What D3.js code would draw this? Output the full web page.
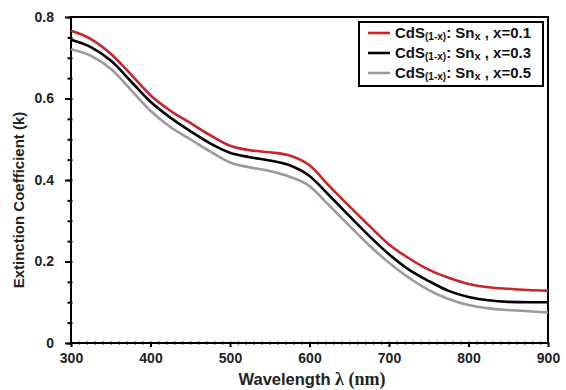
<!DOCTYPE html>
<html>
<head>
<meta charset="utf-8">
<script src="https://cdn.jsdelivr.net/npm/d3@7"></script>
<style>
  body { margin: 0; background: #fff; }
  text { font-family: Arial, "Liberation Sans", sans-serif; font-weight: bold; }
  tspan.serif { font-family: "Liberation Serif", "DejaVu Serif", serif; }
</style>
</head>
<body>
<div id="chart"></div>
<script>
var wavelength = [300, 325, 350, 375, 400, 425, 450, 475, 500, 525, 550, 575, 600,
    625, 650, 675, 700, 725, 750, 775, 800, 825, 850, 875, 900];
var kX01 = [0.766, 0.746, 0.710, 0.660, 0.608, 0.570, 0.540, 0.510, 0.484, 0.473, 0.468, 0.460, 0.436,
    0.385, 0.336, 0.288, 0.242, 0.208, 0.180, 0.160, 0.145, 0.137, 0.133, 0.130, 0.128];
var kX03 = [0.744, 0.726, 0.693, 0.643, 0.592, 0.553, 0.520, 0.490, 0.467, 0.456, 0.448, 0.436, 0.410,
    0.362, 0.312, 0.263, 0.218, 0.180, 0.152, 0.128, 0.113, 0.105, 0.101, 0.100, 0.100];
var kX05 = [0.721, 0.705, 0.673, 0.622, 0.570, 0.530, 0.500, 0.470, 0.443, 0.431, 0.422, 0.408, 0.385,
    0.337, 0.288, 0.240, 0.197, 0.160, 0.130, 0.108, 0.093, 0.085, 0.081, 0.078, 0.075];
var seriesNames = ["x=0.1", "x=0.3", "x=0.5"];
var seriesColors = ["#c8242b", "#000000", "#9a9a9f"];
var xTicks = [300, 400, 500, 600, 700, 800, 900];
var yTicks = [0, 0.2, 0.4, 0.6, 0.8];

var svgWidth = 566, svgHeight = 390;
var margin = { top: 17, right: 18, bottom: 47, left: 71 };
var chartWidth = svgWidth - margin.left - margin.right;
var chartHeight = svgHeight - margin.top - margin.bottom;

var svg = d3.select("#chart").append("svg")
    .attr("width", svgWidth)
    .attr("height", svgHeight);

var chartGroup = svg.append("g")
    .attr("transform", `translate(${margin.left}, ${margin.top})`);

var xScale = d3.scaleLinear().domain([300, 900]).range([0, chartWidth]);
var yScale = d3.scaleLinear().domain([0, 0.8]).range([chartHeight, 0]);

// minor ticks
chartGroup.append("g")
    .attr("transform", `translate(0, ${chartHeight})`)
    .call(d3.axisBottom(xScale).tickValues(d3.range(300, 901, 10)).tickSize(3).tickFormat(""))
    .call(g => g.select(".domain").remove())
    .call(g => g.selectAll("line").attr("stroke-width", 1.3).attr("transform", "translate(0,-1.5)"));

chartGroup.append("g")
    .call(d3.axisLeft(yScale).tickValues(d3.range(0, 0.801, 0.05)).tickSize(5).tickFormat(""))
    .call(g => g.select(".domain").remove())
    .call(g => g.selectAll("line").attr("stroke-width", 2).attr("transform", "translate(1.5,0)"));

// major ticks + labels
var xAxis = chartGroup.append("g")
    .attr("transform", `translate(0, ${chartHeight})`)
    .call(d3.axisBottom(xScale).tickValues(xTicks).tickSize(4).tickPadding(6));
xAxis.select(".domain").remove();
xAxis.selectAll("line").attr("stroke-width", 2);
xAxis.selectAll("text").attr("font-size", 14).attr("fill", "#222");

var yAxis = chartGroup.append("g")
    .call(d3.axisLeft(yScale).tickValues(yTicks).tickSize(6).tickPadding(11)
        .tickFormat(d => d === 0 ? "0" : d3.format(".1f")(d)));
yAxis.select(".domain").remove();
yAxis.selectAll("line").attr("stroke-width", 2);
yAxis.selectAll("text").attr("font-size", 14).attr("fill", "#222");

// frame
chartGroup.append("rect")
    .attr("x", 0).attr("y", 0)
    .attr("width", chartWidth).attr("height", chartHeight)
    .attr("fill", "none").attr("stroke", "#000").attr("stroke-width", 2);

// curves
var allSeries = [kX01, kX03, kX05];
var line = d3.line()
    .x((d, i) => xScale(wavelength[i]))
    .y(d => yScale(d))
    .curve(d3.curveMonotoneX);

chartGroup.selectAll("path.curve")
    .data(allSeries.slice().reverse())
    .enter().append("path")
    .attr("class", "curve")
    .attr("d", line)
    .attr("fill", "none")
    .attr("stroke", (d, i) => seriesColors[2 - i])
    .attr("stroke-width", 2.6);

// legend
var legend = svg.append("g").attr("transform", "translate(359, 22)");
legend.append("rect")
    .attr("width", 184).attr("height", 64)
    .attr("fill", "#fff").attr("stroke", "#000").attr("stroke-width", 2);

var items = legend.selectAll("g.item")
    .data(seriesNames)
    .enter().append("g")
    .attr("class", "item")
    .attr("transform", (d, i) => `translate(0, ${11 + i * 20})`);

items.append("line")
    .attr("x1", 9).attr("x2", 31)
    .attr("stroke", (d, i) => seriesColors[i])
    .attr("stroke-width", 2.6);

var label = items.append("text")
    .attr("x", 36).attr("y", 5)
    .attr("font-size", 15).attr("fill", "#111");
label.append("tspan").text("CdS");
label.append("tspan").attr("font-size", 10).attr("dy", 2).text("(1-x)");
label.append("tspan").attr("dy", -2).text(": Sn");
label.append("tspan").attr("font-size", 11).attr("dy", 2).text("x");
label.append("tspan").attr("dy", -2).text(d => " , " + d);

// axis titles
var xTitle = svg.append("text")
    .attr("x", 312).attr("y", 385)
    .attr("text-anchor", "middle")
    .attr("font-size", 16.5).attr("fill", "#222");
xTitle.append("tspan").text("Wavelength ");
xTitle.append("tspan").attr("class", "serif")
    .attr("font-size", 18).text("λ (nm)");

svg.append("text")
    .attr("transform", `translate(24, ${margin.top + chartHeight / 2 + 20}) rotate(-90)`)
    .attr("text-anchor", "middle")
    .attr("font-size", 15).attr("fill", "#222")
    .text("Extinction Coefficient (k)");
</script>
</body>
</html>
